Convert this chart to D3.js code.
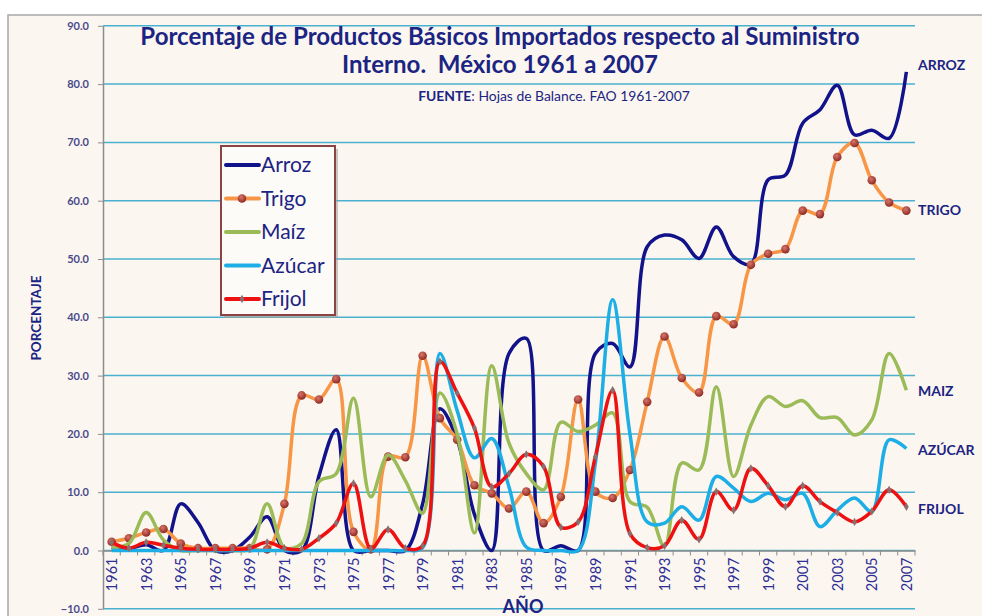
<!DOCTYPE html>
<html>
<head>
<meta charset="utf-8">
<script src="https://cdn.jsdelivr.net/npm/d3@7"></script>
<style>
body { margin: 0; background: #fff; }
svg { display: block; font-family: Lato, "Open Sans", sans-serif; }
</style>
</head>
<body>
<svg id="chart"></svg>
<script>
// valores (porcentaje importado)
var years = [1961,1962,1963,1964,1965,1966,1967,1968,1969,1970,1971,1972,1973,1974,1975,1976,1977,1978,1979,1980,
             1981,1982,1983,1984,1985,1986,1987,1988,1989,1990,1991,1992,1993,1994,1995,1996,1997,1998,1999,2000,
             2001,2002,2003,2004,2005,2006,2007];

var arroz  = [0.5,0.3,1.0,0,8.0,4.8,0,0,2.3,5.8,0,0,12.8,20.7,0,0,0,0,8.0,24.3,
              19,6.2,0,33.8,36.4,0,0.8,0,33.8,35.5,31.5,52.1,54.1,53.3,50.1,55.5,50.4,49.1,63.6,64.4,
              73.3,75.6,79.8,71.3,72.1,70.7,82.1];
var trigo  = [1.5,2.1,3.1,3.7,1.2,0.4,0.4,0.4,0.4,0.2,8.0,26.6,25.9,29.4,3.2,0.2,16.1,16.0,33.4,22.7,
              19,11.2,9.8,7.2,10.1,4.7,9.2,25.9,10.1,9.0,13.8,25.5,36.7,29.6,27.1,40.2,38.8,49.0,50.9,51.7,
              58.3,57.7,67.5,69.9,63.5,59.7,58.3];
var maiz   = [0.5,1.2,6.5,1.8,0,0,0,0,0.3,8.0,0.5,1.2,11.8,13.2,26.1,9.2,16.4,12.0,6.4,27.0,
              20,3.0,31.7,18.4,13.2,10.4,22.0,20.4,21.5,23.6,8.4,7.4,0.7,15.0,13.8,28.1,12.7,21.5,26.4,24.7,
              25.7,22.8,22.8,19.8,22.4,33.8,27.5];
var azucar = [0,0,0,0,0,0,0,0,0,0,0,0,0,0,0,0,0,0,0.5,33.8,
              24,15.9,19.2,10.9,0.6,0,0,0,15,43.0,20,4.9,4.7,7.5,5.2,12.7,10.7,8.4,9.8,8.7,
              9.8,4.1,6.9,9.0,6.7,19.0,17.5];
var frijol = [1.4,0.4,1.4,0.9,0.4,0.2,0.2,0.2,0.4,1.4,0.4,0.2,2.1,4.7,11.5,0.3,3.6,0.4,0.8,32.4,
              27.0,21.0,10.9,13.2,16.5,14.4,4.0,4.9,16.1,27.5,2.9,0.5,0.8,5.2,1.9,10.1,6.9,14.1,11.1,7.5,
              11.1,8.4,6.5,4.9,6.7,10.4,7.5];

var seriesNames = ["Arroz", "Trigo", "Maíz", "Azúcar", "Frijol"];
var endLabels   = ["ARROZ", "TRIGO", "MAIZ", "AZÚCAR", "FRIJOL"];
var yTicks = [-10, 0, 10, 20, 30, 40, 50, 60, 70, 80, 90];

var colors = ["#12128a", "#f79646", "#9bbb59", "#1eaee6", "#ee1111"];
var navy = "#1c2483";

var width = 982;
var height = 616;

var svg = d3.select("svg#chart")
    .attr("width", width)
    .attr("height", height);

var defs = svg.append("defs");
var grad = defs.append("radialGradient").attr("id", "dot").attr("cx", "40%").attr("cy", "35%").attr("r", "65%");
grad.append("stop").attr("offset", "0%").attr("stop-color", "#d9756a");
grad.append("stop").attr("offset", "100%").attr("stop-color", "#8e2a22");

// fondo
svg.append("rect")
    .attr("x", 8).attr("y", 15)
    .attr("width", 990).attr("height", 620)
    .attr("fill", "#fbf7f0")
    .attr("stroke", "#a8a8a8")
    .attr("stroke-width", 1.5);

var x = d3.scalePoint().domain(years).range([103, 915]).padding(0.5);
var xBand = d3.scaleBand().domain(years).range([103, 915]);
var y = d3.scaleLinear().domain([-10, 90]).range([608.8, 25.8]);

// lineas de cuadricula
svg.append("g")
    .selectAll("line")
    .data(yTicks)
    .join("line")
    .attr("x1", 103).attr("x2", 915)
    .attr("y1", d => y(d)).attr("y2", d => y(d))
    .attr("stroke", "#4bb0cf")
    .attr("stroke-width", 1.5);

var yAxis = svg.append("g")
    .attr("transform", "translate(103,0)")
    .call(d3.axisLeft(y).tickValues(yTicks).tickFormat(d3.format(".1f")).tickSize(5).tickSizeOuter(0).tickPadding(9));
yAxis.select(".domain").attr("stroke", "#8c8c8c").attr("stroke-width", 1.5);
yAxis.selectAll(".tick line").attr("stroke", "#8c8c8c");
yAxis.selectAll("text")
    .attr("fill", "#4a4a8c")
    .style("font-size", "11px")
    .style("font-weight", "bold")
    .style("font-family", "Lato, sans-serif");

var xAxis = svg.append("g")
    .attr("transform", "translate(0," + y(0) + ")")
    .call(d3.axisBottom(x).tickValues(years.filter((d, i) => i % 2 === 0)).tickSize(0).tickSizeOuter(0));
xAxis.select(".domain").attr("stroke", "#8c8c8c").attr("stroke-width", 1.5);
xAxis.selectAll("text")
    .attr("transform", "rotate(-90)")
    .attr("text-anchor", "end")
    .attr("x", -7)
    .attr("y", 0)
    .attr("dy", "0.35em")
    .attr("fill", "#2e2e96")
    .style("font-size", "14.5px")
    .style("font-family", "Lato, sans-serif");
xAxis.append("g")
    .selectAll("line")
    .data(years.map(d => xBand(d)).concat([xBand.range()[1]]))
    .join("line")
    .attr("x1", d => d).attr("x2", d => d)
    .attr("y1", 0).attr("y2", 5)
    .attr("stroke", "#8c8c8c");

// series
var values = [arroz, trigo, maiz, azucar, frijol];
var line = d3.line()
    .x((d, i) => x(years[i]))
    .y(d => y(d))
    .curve(d3.curveCatmullRom.alpha(0.5));

var plot = svg.append("g");
values.forEach(function(v, k) {
    plot.append("path")
        .attr("d", line(v))
        .attr("fill", "none")
        .attr("stroke", colors[k])
        .attr("stroke-width", 3.5)
        .attr("stroke-linejoin", "round");
    if (k === 1) {
        plot.append("g").selectAll("circle")
            .data(v)
            .join("circle")
            .attr("cx", (d, i) => x(years[i]))
            .attr("cy", d => y(d))
            .attr("r", 4.3)
            .attr("fill", "url(#dot)");
    }
    if (k === 4) {
        plot.append("g").selectAll("path")
            .data(v)
            .join("path")
            .attr("transform", (d, i) => "translate(" + x(years[i]) + "," + y(d) + ")")
            .attr("d", d3.symbol(d3.symbolDiamond, 20))
            .attr("fill", "#8a6f70");
    }
});

// etiquetas al final de cada serie
var nudge = [-2, 4, 6, 7, 7];
svg.append("g")
    .selectAll("text")
    .data(endLabels)
    .join("text")
    .attr("x", 918)
    .attr("y", (d, k) => y(values[k][values[k].length - 1]) + nudge[k])
    .attr("fill", navy)
    .style("font-size", "14px")
    .style("font-weight", "bold")
    .text(d => d);

// titulo
var t1 = svg.append("text")
    .attr("x", 500).attr("y", 45)
    .attr("text-anchor", "middle")
    .attr("fill", navy)
    .style("font-weight", "bold")
    .style("font-size", "20px")
    .text("Porcentaje de Productos Básicos Importados respecto al Suministro");
var scale = 720 / t1.node().getComputedTextLength();
t1.style("font-size", (20 * scale) + "px");
svg.append("text")
    .attr("x", 500).attr("y", 73)
    .attr("text-anchor", "middle")
    .attr("fill", navy)
    .style("font-weight", "bold")
    .style("font-size", (20 * scale) + "px")
    .attr("xml:space", "preserve")
    .text("Interno.  México 1961 a 2007");

var src = svg.append("text")
    .attr("x", 554).attr("y", 101)
    .attr("text-anchor", "middle")
    .attr("fill", navy)
    .style("font-size", "11px");
src.append("tspan").style("font-weight", "bold").text("FUENTE");
src.append("tspan").text(": Hojas de Balance. FAO 1961-2007");
var srcScale = 272 / src.node().getComputedTextLength();
src.style("font-size", (11 * srcScale) + "px");

svg.append("text")
    .attr("transform", "translate(41,318) rotate(-90)")
    .attr("text-anchor", "middle")
    .attr("fill", navy)
    .style("font-size", "13.5px")
    .style("font-weight", "bold")
    .text("PORCENTAJE");

svg.append("text")
    .attr("x", 523).attr("y", 613)
    .attr("text-anchor", "middle")
    .attr("fill", navy)
    .style("font-size", "18px")
    .style("font-weight", "bold")
    .text("AÑO");

// leyenda
var legend = svg.append("g").attr("transform", "translate(221,146)");
legend.append("rect")
    .attr("x", 3).attr("y", 3)
    .attr("width", 114).attr("height", 169)
    .attr("fill", "#a09a98").attr("opacity", 0.55);
legend.append("rect")
    .attr("width", 114).attr("height", 169)
    .attr("fill", "#fdfbf8")
    .attr("stroke", "#8a4444")
    .attr("stroke-width", 2);
var item = legend.selectAll("g.item")
    .data(seriesNames)
    .join("g")
    .attr("class", "item")
    .attr("transform", (d, k) => "translate(0," + (19 + k * 33.5) + ")");
item.append("line")
    .attr("x1", 5).attr("x2", 38)
    .attr("stroke", (d, k) => colors[k])
    .attr("stroke-width", 4)
    .attr("stroke-linecap", "round");
item.filter((d, k) => k === 1).append("circle")
    .attr("cx", 21).attr("r", 4.3).attr("fill", "url(#dot)");
item.filter((d, k) => k === 4).append("path")
    .attr("transform", "translate(21,0)")
    .attr("d", d3.symbol(d3.symbolDiamond, 20))
    .attr("fill", "#8a6f70");
item.append("text")
    .attr("x", 40)
    .attr("dy", "0.35em")
    .attr("fill", navy)
    .style("font-size", "21px")
    .text(d => d);
</script>
</body>
</html>
